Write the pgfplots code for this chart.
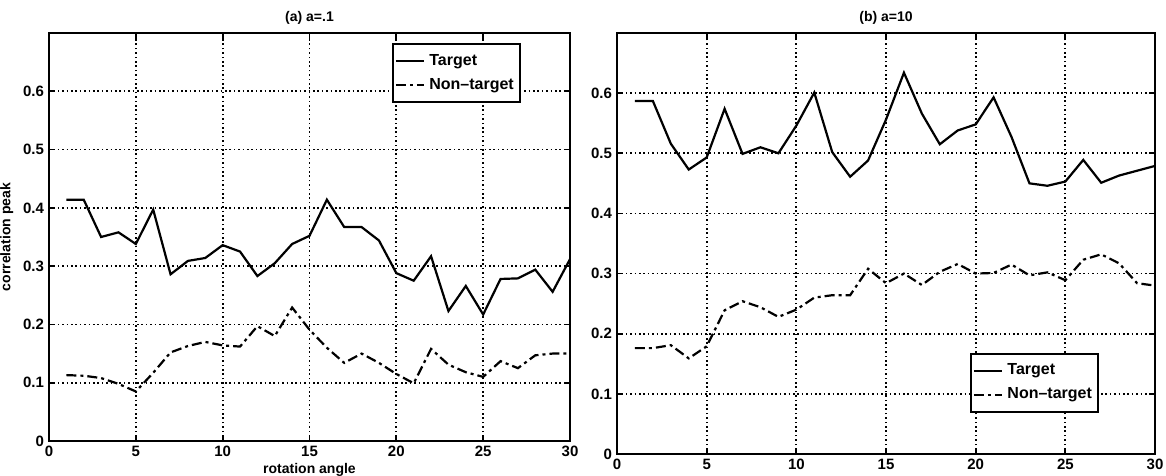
\documentclass[border=0pt]{standalone}
\usepackage{pgfplots}
\pgfplotsset{compat=1.18}
\usepackage{fontspec}
\setmainfont{Liberation Sans}
\begin{document}
\begin{tikzpicture}
\useasboundingbox (0,0) rectangle (583pt,238pt);
\pgfplotsset{
 mystyle/.style={
  scale only axis,
  xmin=0,xmax=30,ymin=0,ymax=0.7,
  xtick={0,5,10,15,20,25,30},
  ytick={0,0.1,0.2,0.3,0.4,0.5,0.6},
  grid=major,
  major grid style={black, line width=0.9pt, dash pattern=on 0.8pt off 1.4pt},
  axis line style={line width=1.1pt},
  tick style={black, line width=0.9pt},
  tick align=inside, major tick length=3pt,
  tick label style={font=\fontsize{7.5}{8}\selectfont\bfseries},
  /pgf/number format/assume math mode=true,
  yticklabel style={/pgf/number format/fixed, xshift=1pt},
  xticklabel style={yshift=1pt},
  label style={font=\fontsize{7}{8}\selectfont\bfseries},
  title style={font=\fontsize{7}{8}\selectfont\bfseries, yshift=-5pt},
  legend cell align=left,
  legend style={draw=black, line width=0.9pt, font=\fontsize{8}{9.5}\selectfont\bfseries,
    inner xsep=1pt, inner ysep=3pt, row sep=1pt, /tikz/every even column/.append style={column sep=2pt}},
  legend image code/.code={\draw[#1] (0cm,0cm) -- (0.5cm,0cm);},
  no markers,
 },
 tgt/.style={black, line width=1.1pt, solid},
 ntg/.style={black, line width=1.1pt, dash pattern=on 5pt off 2pt on 1.5pt off 2pt},
}
\begin{axis}[mystyle, at={(24.5pt,17.5pt)}, anchor=south west, width=260.5pt, height=204pt,
  title={(a) a=.1}, xlabel={rotation angle}, ylabel={correlation peak},
  xlabel style={yshift=3.5pt}, ylabel style={yshift=-2pt},
  legend style={at={(0.658,0.975)}, anchor=north west}]
\addplot[tgt] coordinates {
(1,0.414)(2,0.414)(3,0.350)(4,0.358)(5,0.338)(6,0.397)(7,0.286)(8,0.309)(9,0.314)(10,0.336)
(11,0.325)(12,0.283)(13,0.305)(14,0.338)(15,0.352)(16,0.414)(17,0.367)(18,0.367)(19,0.344)(20,0.288)
(21,0.275)(22,0.317)(23,0.223)(24,0.266)(25,0.217)(26,0.278)(27,0.279)(28,0.294)(29,0.256)(30,0.312)};
\addlegendentry{Target}
\addplot[ntg] coordinates {
(1,0.113)(2,0.112)(3,0.108)(4,0.098)(5,0.085)(6,0.117)(7,0.152)(8,0.163)(9,0.170)(10,0.164)
(11,0.162)(12,0.197)(13,0.180)(14,0.229)(15,0.191)(16,0.160)(17,0.134)(18,0.150)(19,0.134)(20,0.115)
(21,0.099)(22,0.158)(23,0.131)(24,0.118)(25,0.110)(26,0.137)(27,0.125)(28,0.147)(29,0.150)(30,0.150)};
\addlegendentry{Non–target}
\end{axis}
\begin{axis}[mystyle, at={(308.5pt,11pt)}, anchor=south west, width=269pt, height=210.5pt,
  title={(b) a=10},
  legend style={at={(0.656,0.24)}, anchor=north west}]
\addplot[tgt] coordinates {
(1,0.587)(2,0.587)(3,0.516)(4,0.473)(5,0.493)(6,0.574)(7,0.499)(8,0.510)(9,0.500)(10,0.546)
(11,0.601)(12,0.502)(13,0.461)(14,0.488)(15,0.556)(16,0.634)(17,0.566)(18,0.515)(19,0.538)(20,0.548)
(21,0.593)(22,0.527)(23,0.450)(24,0.446)(25,0.453)(26,0.489)(27,0.451)(28,0.463)(29,0.471)(30,0.479)};
\addlegendentry{Target}
\addplot[ntg] coordinates {
(1,0.176)(2,0.176)(3,0.181)(4,0.159)(5,0.179)(6,0.239)(7,0.254)(8,0.244)(9,0.228)(10,0.240)
(11,0.260)(12,0.264)(13,0.264)(14,0.308)(15,0.284)(16,0.300)(17,0.281)(18,0.303)(19,0.316)(20,0.300)
(21,0.301)(22,0.315)(23,0.297)(24,0.302)(25,0.289)(26,0.323)(27,0.332)(28,0.317)(29,0.284)(30,0.280)};
\addlegendentry{Non–target}
\end{axis}
\end{tikzpicture}
\end{document}
